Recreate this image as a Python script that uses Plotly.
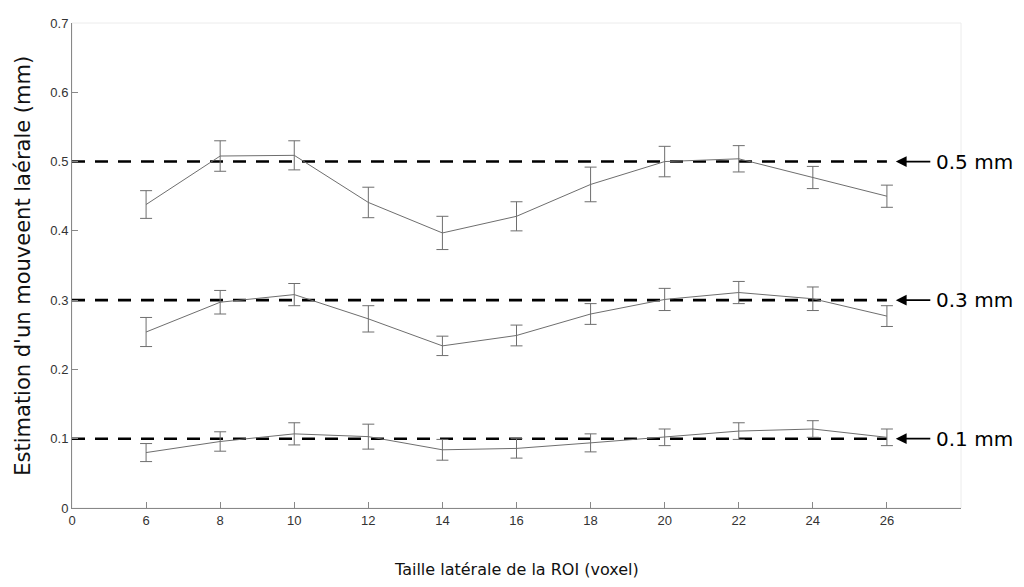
import plotly.graph_objects as go

# ---- data ----
x_labels = ["0", "6", "8", "10", "12", "14", "16", "18", "20", "22", "24", "26"]
roi_sizes = ["6", "8", "10", "12", "14", "16", "18", "20", "22", "24", "26"]

est_05 = [0.438, 0.508, 0.509, 0.441, 0.397, 0.421, 0.467, 0.500, 0.504, 0.477, 0.450]
err_05 = [0.020, 0.022, 0.021, 0.022, 0.024, 0.021, 0.025, 0.022, 0.019, 0.016, 0.016]

est_03 = [0.254, 0.297, 0.308, 0.273, 0.234, 0.249, 0.280, 0.301, 0.311, 0.302, 0.277]
err_03 = [0.021, 0.017, 0.016, 0.019, 0.014, 0.015, 0.015, 0.016, 0.016, 0.017, 0.015]

est_01 = [0.080, 0.096, 0.107, 0.103, 0.084, 0.086, 0.094, 0.102, 0.111, 0.114, 0.102]
err_01 = [0.013, 0.014, 0.016, 0.018, 0.015, 0.014, 0.013, 0.012, 0.012, 0.012, 0.012]

true_values = [0.5, 0.3, 0.1]
true_labels = ["0.5 mm", "0.3 mm", "0.1 mm"]

y_ticks = [0, 0.1, 0.2, 0.3, 0.4, 0.5, 0.6, 0.7]
y_ticktext = ["0", "0.1", "0.2", "0.3", "0.4", "0.5", "0.6", "0.7"]

# positions on the axis (0 is the origin label, then one slot per ROI size)
pos = {lab: i for i, lab in enumerate(x_labels)}
xs = [pos[s] for s in roi_sizes]

fig = go.Figure()

line_col = "#6e6e6e"
for est, err in [(est_05, err_05), (est_03, err_03), (est_01, err_01)]:
    fig.add_trace(go.Scatter(
        x=xs, y=est, mode="lines",
        line=dict(color=line_col, width=1),
        error_y=dict(type="data", array=err, visible=True,
                     color=line_col, thickness=1, width=6),
        showlegend=False, hoverinfo="skip",
    ))

last_pos = pos[roi_sizes[-1]]
for v, lab in zip(true_values, true_labels):
    fig.add_shape(type="line", xref="x", yref="y",
                  x0=0, x1=last_pos, y0=v, y1=v,
                  line=dict(color="black", width=2.6, dash="13px,10px"),
                  layer="below")
    fig.add_annotation(x=last_pos + 0.12, y=v, xref="x", yref="y",
                       ax=36, ay=0, axref="pixel", ayref="pixel",
                       text="", showarrow=True, arrowhead=2, arrowsize=1.2,
                       arrowwidth=1.8, arrowcolor="black")
    fig.add_annotation(x=last_pos + 0.64, y=v, xref="x", yref="y",
                       text=lab, showarrow=False, xanchor="left", yanchor="middle",
                       font=dict(family="DejaVu Sans", size=20, color="black"))

# faint frame
fig.add_shape(type="rect", xref="paper", yref="paper", x0=0, x1=1, y0=0, y1=1,
              line=dict(color="#ececec", width=1), layer="below")

fig.add_annotation(x=0.5, y=-0.126, xref="paper", yref="paper",
                   text="Taille latérale de la ROI (voxel)", showarrow=False,
                   xanchor="center", yanchor="middle",
                   font=dict(family="DejaVu Sans", size=16, color="#111"))
fig.add_annotation(x=-0.056, y=0.5, xref="paper", yref="paper",
                   text="Estimation d'un mouveent laérale (mm)", showarrow=False,
                   textangle=-90, xanchor="center", yanchor="middle",
                   font=dict(family="DejaVu Sans", size=21, color="#111"))

# the page adds an 8px body margin; keep the figure inside the window
fig.update_layout(
    width=1008, height=571,
    margin=dict(l=64, r=55, t=8, b=71),
    plot_bgcolor="white", paper_bgcolor="white",
    font=dict(family="Liberation Sans", size=13, color="#333"),
    xaxis=dict(range=[0, 12], tickmode="array",
               tickvals=list(range(len(x_labels))) + [12],
               ticktext=x_labels + [""],
               ticks="inside", ticklen=6, tickcolor="#888",
               showline=True, linecolor="#888", linewidth=1,
               showgrid=False, zeroline=False, fixedrange=True),
    yaxis=dict(range=[0, 0.7], tickmode="array", tickvals=y_ticks,
               ticktext=y_ticktext,
               ticks="inside", ticklen=6, tickcolor="#888",
               showline=True, linecolor="#888", linewidth=1,
               showgrid=False, zeroline=False, fixedrange=True),
)

fig.write_html("out.html")
